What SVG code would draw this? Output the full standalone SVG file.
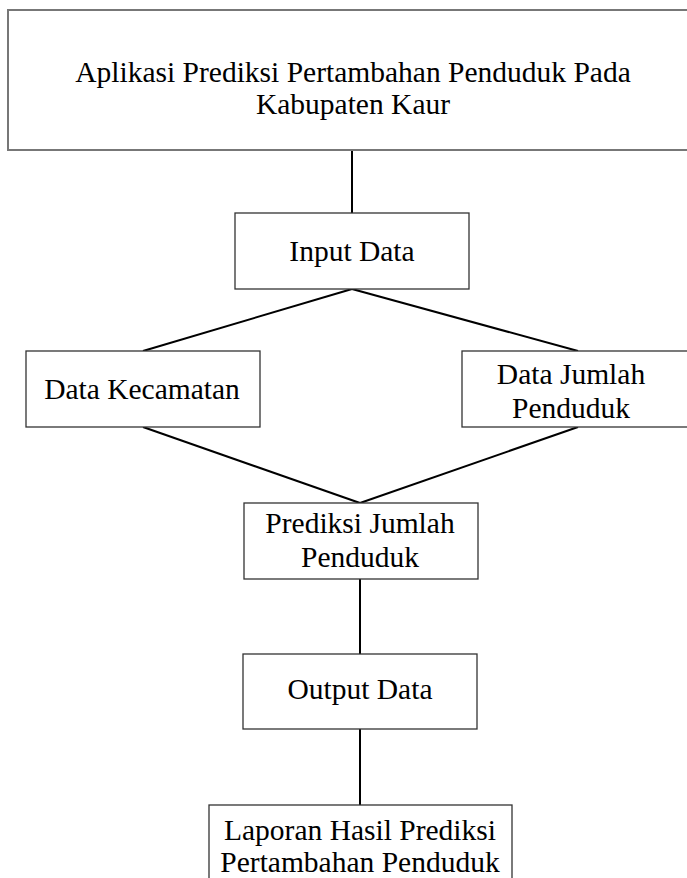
<svg xmlns="http://www.w3.org/2000/svg" width="687" height="878" viewBox="0 0 687 878">
<style>
.box{fill:#fff;stroke:#333;stroke-width:1.3}
.top{fill:#fff;stroke:#777;stroke-width:2}
.t{font-family:"Liberation Serif","Times New Roman",serif;font-size:29.5px;fill:#000;text-anchor:middle}
.c{stroke:#000;stroke-width:2;fill:none}
</style>
<rect width="687" height="878" fill="#fff"/>
<g id="connectors">
<line class="c" x1="352" y1="150" x2="352" y2="213"/>
<line class="c" x1="352" y1="289" x2="143" y2="351"/>
<line class="c" x1="352" y1="289" x2="578" y2="351"/>
<line class="c" x1="143" y1="427" x2="360" y2="503"/>
<line class="c" x1="578" y1="427" x2="360" y2="503"/>
<line class="c" x1="360" y1="579" x2="360" y2="654"/>
<line class="c" x1="360" y1="729" x2="360" y2="805"/>
</g>
<g id="n-aplikasi">
<rect class="top" x="8" y="10" width="690" height="140"/>
<text class="t" x="353" y="82">Aplikasi Prediksi Pertambahan Penduduk Pada</text>
<text class="t" x="353" y="114">Kabupaten Kaur</text>
</g>
<g id="n-input">
<rect class="box" x="235" y="213" width="234" height="76"/>
<text class="t" x="352" y="261">Input Data</text>
</g>
<g id="n-kecamatan">
<rect class="box" x="26" y="351" width="234" height="76"/>
<text class="t" x="142" y="399">Data Kecamatan</text>
</g>
<g id="n-jumlah">
<rect class="box" x="462" y="351" width="240" height="76"/>
<text class="t" x="571" y="384">Data Jumlah</text>
<text class="t" x="571" y="418">Penduduk</text>
</g>
<g id="n-prediksi">
<rect class="box" x="244" y="503" width="234" height="76"/>
<text class="t" x="360" y="533">Prediksi Jumlah</text>
<text class="t" x="360" y="567">Penduduk</text>
</g>
<g id="n-output">
<rect class="box" x="243" y="654" width="234" height="75"/>
<text class="t" x="360" y="699">Output Data</text>
</g>
<g id="n-laporan">
<rect class="box" x="209" y="805" width="303" height="90"/>
<text class="t" x="360" y="840">Laporan Hasil Prediksi</text>
<text class="t" x="360" y="872">Pertambahan Penduduk</text>
</g>
</svg>
